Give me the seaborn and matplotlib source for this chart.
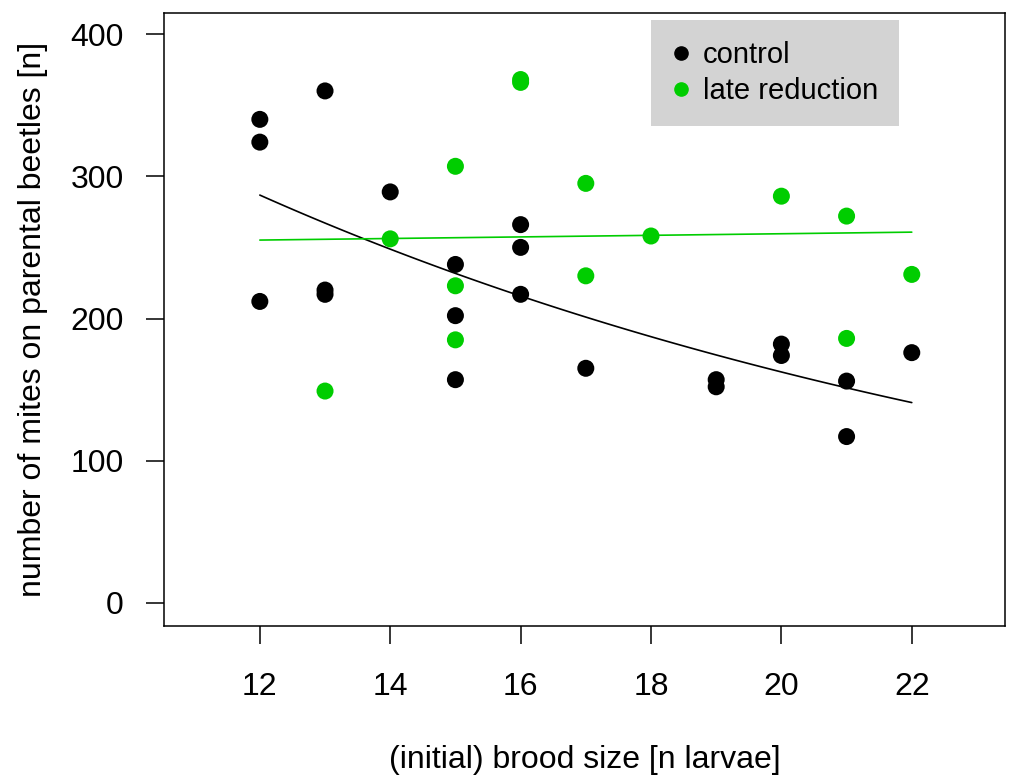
import numpy as np
import pandas as pd
import seaborn as sns
import matplotlib.pyplot as plt
from matplotlib.lines import Line2D

# values
ctrl_brood = [12, 12, 12, 13, 13, 13, 14, 15, 15, 15, 16, 16, 16, 17, 19, 19, 20, 20, 21, 21, 22]
ctrl_mites = [340, 324, 212, 360, 220, 217, 289, 238, 202, 157, 266, 250, 217, 165, 157, 152, 182, 174, 156, 117, 176]
late_brood = [13, 14, 15, 15, 15, 16, 16, 17, 17, 18, 20, 21, 21, 22]
late_mites = [149, 256, 307, 223, 185, 368, 366, 295, 230, 258, 286, 272, 186, 231]

groups = ['control', 'late reduction']
colors = {'control': 'black', 'late reduction': '#00CD00'}

df = pd.concat([
    pd.DataFrame({'brood': ctrl_brood, 'mites': ctrl_mites, 'treatment': 'control'}),
    pd.DataFrame({'brood': late_brood, 'mites': late_mites, 'treatment': 'late reduction'}),
])


def poisson_fit(x, y, n_iter=50):
    # simple IRLS for a log-link poisson glm
    x = np.asarray(x, float)
    y = np.asarray(y, float)
    X = np.column_stack([np.ones_like(x), x])
    beta = np.array([np.log(y.mean()), 0.0])
    for _ in range(n_iter):
        mu = np.exp(X @ beta)
        z = X @ beta + (y - mu) / mu
        W = mu
        beta = np.linalg.solve(X.T @ (W[:, None] * X), X.T @ (W * z))
    return beta


grid = np.linspace(12, 22, 100)
fits = []
for g in groups:
    sub = df[df.treatment == g]
    b = poisson_fit(sub.brood, sub.mites)
    fits.append(pd.DataFrame({'brood': grid, 'mites': np.exp(b[0] + b[1] * grid), 'treatment': g}))
fit_df = pd.concat(fits)

sns.set_style('white')
plt.rcParams['font.family'] = ['Liberation Sans', 'DejaVu Sans']
plt.rcParams['text.color'] = 'black'
plt.rcParams['axes.labelcolor'] = 'black'

fig = plt.figure(figsize=(10.13, 7.77), dpi=100)
ax = fig.add_axes([0.1619, 0.1943, 0.8302, 0.789])

sns.scatterplot(data=df, x='brood', y='mites', hue='treatment', palette=colors,
                s=150, edgecolor='none', legend=False, ax=ax, zorder=3)
sns.lineplot(data=fit_df, x='brood', y='mites', hue='treatment', palette=colors,
             linewidth=1.2, legend=False, ax=ax, zorder=2)

ax.set_xlim(10.53, 23.43)
ax.set_ylim(-16.2, 414.8)
ax.set_xticks([12, 14, 16, 18, 20, 22])
ax.set_yticks([0, 100, 200, 300, 400])
ax.tick_params(direction='out', length=13, width=1.1, labelsize=23, colors='black',
               left=True, bottom=True)
ax.tick_params(axis='x', pad=20)
ax.tick_params(axis='y', pad=16)
for s in ax.spines.values():
    s.set_visible(True)
    s.set_color('black')
    s.set_linewidth(1.1)

ax.set_xlabel('(initial) brood size [n larvae]', fontsize=23, labelpad=31)
ax.set_ylabel('number of mites on parental beetles [n]', fontsize=23, labelpad=16)

handles = [Line2D([], [], marker='o', linestyle='none', color=colors[g], markersize=9.5) for g in groups]
leg = ax.legend(handles, groups, loc='upper left', bbox_to_anchor=(0.579, 0.989),
                fontsize=21, frameon=True, fancybox=False, framealpha=1,
                facecolor='#D3D3D3', edgecolor='none', handletextpad=0.4,
                handlelength=0.65, borderpad=0.72, labelspacing=0.28, borderaxespad=0)

fig.savefig('out.png', dpi=100)
